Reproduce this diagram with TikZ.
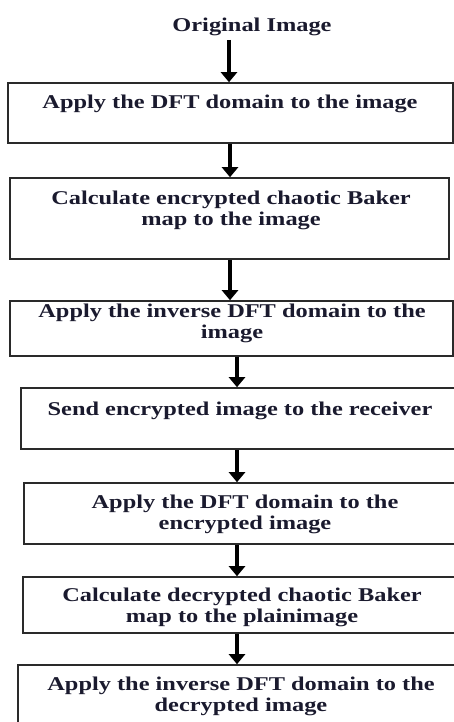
\documentclass[tikz,border=0pt]{standalone}
\usepackage{fontspec}
\setmainfont[FakeStretch=1.25]{Liberation Serif}
\usetikzlibrary{arrows.meta}
\definecolor{txtc}{HTML}{1A1A2E}
\definecolor{boxc}{HTML}{2A2A2A}
\tikzset{
  stepbox/.style={draw=boxc,line width=1.6pt,inner sep=0pt},
  txt/.style={text=txtc,font=\bfseries\fontsize{19.5}{21}\selectfont,align=center,inner sep=0pt},
  arr/.style={line width=4pt,-{Triangle[width=16pt,length=10pt]}}
}
\begin{document}
\begin{tikzpicture}[x=1pt,y=-1pt]
\useasboundingbox (0,0) rectangle (454,722);
\clip (0,0) rectangle (454,722);
\node[txt] (t0) at (252,27) {Original Image};
\coordinate (a0) at (229,40);
\node[stepbox,minimum width=445pt,minimum height=60pt] (b1) at (230.5,113) {};
\node[txt] (t1) at (230,104) {Apply the DFT domain to the image};
\node[stepbox,minimum width=439pt,minimum height=81pt] (b2) at (229.5,218.5) {};
\node[txt] (t2) at (231,210) {Calculate encrypted chaotic Baker\\map to the image};
\node[stepbox,minimum width=443pt,minimum height=55pt] (b3) at (231.5,328.5) {};
\node[txt] (t3) at (232,323) {Apply the inverse DFT domain to the\\image};
\node[stepbox,minimum width=449pt,minimum height=61pt] (b4) at (245.5,418.5) {};
\node[txt] (t4) at (240,411) {Send encrypted image to the receiver};
\node[stepbox,minimum width=446pt,minimum height=61pt] (b5) at (247,513.5) {};
\node[txt] (t5) at (245,514.5) {Apply the DFT domain to the\\encrypted image};
\node[stepbox,minimum width=447pt,minimum height=56pt] (b6) at (246.5,605) {};
\node[txt] (t6) at (242,607.5) {Calculate decrypted chaotic Baker\\map to the plainimage};
\node[stepbox,minimum width=452pt,minimum height=80pt] (b7) at (244,705) {};
\node[txt] (t7) at (241,696.5) {Apply the inverse DFT domain to the\\decrypted image};
\draw[arr] (a0) -- (a0 |- b1.north);
\draw[arr] (b1.south -| 230,0) -- (b2.north -| 230,0);
\draw[arr] (b2.south -| 230,0) -- (b3.north -| 230,0);
\draw[arr] (b3.south -| 237,0) -- (b4.north -| 237,0);
\draw[arr] (b4.south -| 237,0) -- (b5.north -| 237,0);
\draw[arr] (b5.south -| 237,0) -- (b6.north -| 237,0);
\draw[arr] (b6.south -| 237,0) -- (b7.north -| 237,0);
\end{tikzpicture}
\end{document}
